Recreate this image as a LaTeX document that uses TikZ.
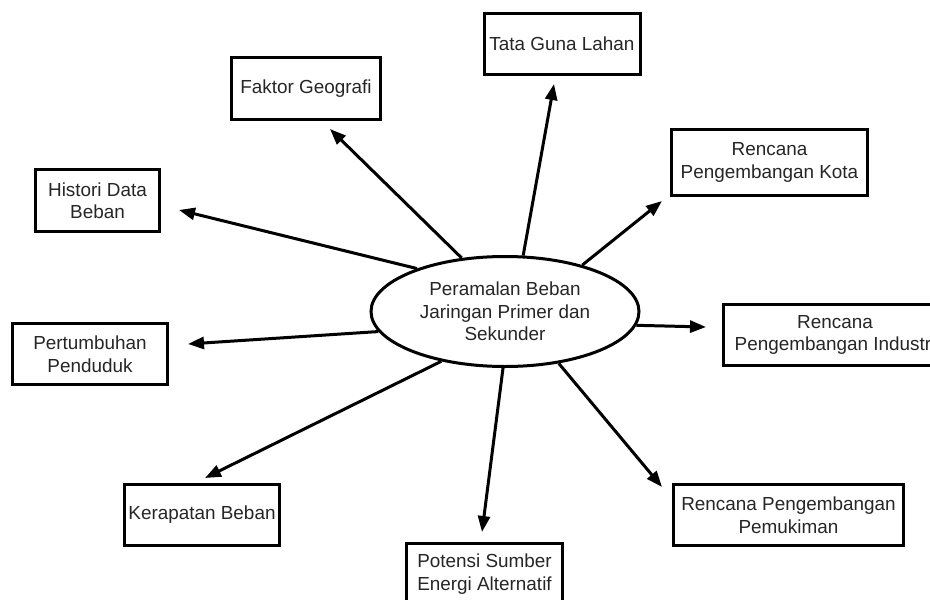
\documentclass[tikz,border=0pt]{standalone}
\usepackage{fontspec}
\setmainfont{Liberation Sans}
\usetikzlibrary{arrows.meta,shapes.geometric}
\tikzset{
  box/.style={draw=black, line width=3pt, rectangle, inner sep=2pt, align=center,
    font=\fontsize{18.9}{22.5}\selectfont, text=black!85},
  center/.style={draw=black, line width=3pt, ellipse, inner sep=0pt, align=center,
    minimum width=268pt, minimum height=110pt,
    font=\fontsize{18.9}{22.5}\selectfont, text=black!85},
  conn/.style={line width=3pt, -{Triangle[length=16pt,width=12pt]}}
}
\begin{document}
\begin{tikzpicture}[x=1pt,y=-1pt]
\useasboundingbox (0,0) rectangle (930,600);
\clip (0,0) rectangle (930,600);
\fill[white] (0,0) rectangle (930,600);
% centre
\node[center] (ell) at (505,311.5) {Peramalan Beban\\Jaringan Primer dan\\Sekunder};
% boxes
\node[box, minimum width=149pt, minimum height=62pt] (fak) at (306,88.5) {Faktor Geografi};
\node[box, minimum width=124pt, minimum height=62pt] (his) at (97.5,200.5) {Histori Data\\Beban};
\node[box, minimum width=156pt, minimum height=61pt] (tat) at (562,44) {Tata Guna Lahan};
\node[box, minimum width=196pt, minimum height=66pt] (kot) at (769.5,162.5) {Rencana\\Pengembangan Kota};
\node[box, minimum width=223pt, minimum height=61pt] (ind) at (835,335) {Rencana\\Pengembangan Industri};
\node[box, minimum width=230pt, minimum height=61pt] (pem) at (788.5,515) {Rencana Pengembangan\\Pemukiman};
\node[box, minimum width=156pt, minimum height=61pt] (pot) at (484.5,574) {Potensi Sumber\\Energi Alternatif};
\node[box, minimum width=155pt, minimum height=61pt] (ker) at (202,515) {Kerapatan Beban};
\node[box, minimum width=155pt, minimum height=61pt] (per) at (90,354) {Pertumbuhan\\Penduduk};
% arrow tips
\coordinate (tHis) at (179,210);
\coordinate (tFak) at (330,129);
\coordinate (tTat) at (554,84);
\coordinate (tKot) at (662,201);
\coordinate (tInd) at (706,327);
\coordinate (tPem) at (662,487);
\coordinate (tPot) at (482,532);
\coordinate (tKer) at (205,478);
\coordinate (tPer) at (188,344);
% connectors
\draw[conn] (ell.154.7) -- (tHis);
\draw[conn] (ell.129.3) -- (tFak);
\draw[conn] (ell.72.7) -- (tTat);
\draw[conn] (ell.31.8) -- (tKot);
\draw[conn] (ell.-6.8) -- (tInd);
\draw[conn] (ell.-44.2) -- (tPem);
\draw[conn] (ell.-92) -- (tPot);
\draw[conn] (ell.-142.9) -- (tKer);
\draw[conn] (ell.189.4) -- (tPer);
\end{tikzpicture}
\end{document}
